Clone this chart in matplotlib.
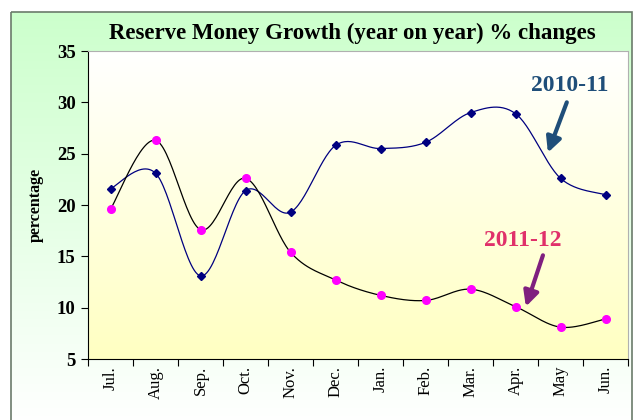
import numpy as np
from matplotlib import pyplot as plt
from matplotlib.patches import Rectangle

months = ["Jul.", "Aug.", "Sep.", "Oct.", "Nov.", "Dec.", "Jan.", "Feb.", "Mar.", "Apr.", "May", "Jun."]
growth_2010_11 = [21.6, 23.1, 13.1, 21.4, 19.3, 25.8, 25.5, 26.1, 29.0, 28.9, 22.6, 21.0]
growth_2011_12 = [19.6, 26.3, 17.6, 22.6, 15.4, 12.7, 11.2, 10.7, 11.8, 10.1, 8.1, 8.9]


def smooth(xs, ys, steps=30):
    # excel-style bezier smoothing through the points
    p = np.column_stack([xs, ys]).astype(float)
    p = np.vstack([p[0], p, p[-1]])
    out = []
    t = np.linspace(0, 1, steps)[:, None]
    for i in range(1, len(p) - 2):
        b0 = p[i]
        b3 = p[i + 1]
        b1 = b0 + (p[i + 1] - p[i - 1]) / 6
        b2 = b3 - (p[i + 2] - p[i]) / 6
        seg = (1 - t) ** 3 * b0 + 3 * (1 - t) ** 2 * t * b1 + 3 * (1 - t) * t ** 2 * b2 + t ** 3 * b3
        out.append(seg)
    c = np.vstack(out)
    return c[:, 0], c[:, 1]


fig = plt.figure(figsize=(6.36, 4.2), dpi=100)
W, H = 636, 420

# outer green panel with gradient
bg = fig.add_axes([0, 0, 1, 1], zorder=0)
bg.set_xlim(0, W)
bg.set_ylim(H, 0)
bg.axis("off")
grad = np.linspace(0, 1, 256)[:, None]
green = np.array([0.80, 1.0, 0.80])
white = np.array([1.0, 1.0, 1.0])
img = green[None, None, :] * (1 - grad[:, :, None]) + white[None, None, :] * grad[:, :, None]
bg.imshow(img, extent=[11, 632, 425, 12], aspect="auto")
bg.add_patch(Rectangle((11, 12), 621, 420, fill=False, edgecolor="#6b7b6b", linewidth=1.2))

ax = fig.add_axes([88 / W, 1 - 359 / H, 540 / W, 308 / H], zorder=1)
x = np.arange(len(months))
ax.set_xlim(-0.5, len(months) - 0.5)
ax.set_ylim(5, 35)

# plot area gradient white -> light yellow
yel = np.array([1.0, 1.0, 0.76])
pimg = white[None, None, :] * (1 - grad[:, :, None]) + yel[None, None, :] * grad[:, :, None]
ax.imshow(pimg, extent=[-0.5, len(months) - 0.5, 5, 35], aspect="auto", origin="upper", zorder=0)

sx, sy = smooth(x, growth_2010_11)
ax.plot(sx, sy, color="#000080", linewidth=0.9, zorder=2)
ax.plot(x, growth_2010_11, linestyle="none", marker="D", markersize=4.5, color="#000080", zorder=3)

sx, sy = smooth(x, growth_2011_12)
ax.plot(sx, sy, color="black", linewidth=0.9, zorder=2)
ax.plot(x, growth_2011_12, linestyle="none", marker="o", markersize=5.5, color="#ff00ff", zorder=3)

ax.set_yticks(range(5, 36, 5))
ax.set_xticks(np.arange(-0.5, len(months), 1), minor=False)
ax.set_xticklabels([])
ax.set_xticks(x, minor=True)
ax.set_xticklabels(months, minor=True, rotation=90, fontfamily="Liberation Serif", fontsize=12)
ax.tick_params(axis="x", which="minor", length=0, pad=5)
ax.tick_params(axis="x", which="major", length=5, direction="out")
ax.tick_params(axis="y", length=5, direction="out", pad=4)
for lab in ax.get_yticklabels():
    lab.set_fontfamily("Liberation Serif")
    lab.set_fontweight("bold")
    lab.set_fontsize(13.5)
ax.spines["top"].set_color("#b0b0b0")
ax.spines["right"].set_color("#b0b0b0")
ax.set_ylabel("percentage", fontfamily="Liberation Serif", fontweight="bold", fontsize=11.5, labelpad=9)

fig.text(352 / W, 1 - 33 / H, "Reserve Money Growth (year on year) % changes", ha="center", va="center",
         fontfamily="Liberation Serif", fontweight="bold", fontsize=16.5)

ax.text(10.21, 31.6, "2010-11", ha="center", va="center", fontfamily="Liberation Serif",
        fontweight="bold", fontsize=17, color="#1f4e79")
ax.annotate("", xy=(9.72, 25.1), xytext=(10.14, 30.0),
            arrowprops=dict(arrowstyle="-|>,head_length=0.9,head_width=0.45", color="#1f4e79",
                            linewidth=3, shrinkA=0, shrinkB=0))
ax.text(9.17, 16.5, "2011-12", ha="center", va="center", fontfamily="Liberation Serif",
        fontweight="bold", fontsize=17, color="#e0306a")
ax.annotate("", xy=(9.23, 10.1), xytext=(9.61, 15.1),
            arrowprops=dict(arrowstyle="-|>,head_length=0.9,head_width=0.45", color="#7f1f7f",
                            linewidth=3, shrinkA=0, shrinkB=0))

fig.savefig("out.png", dpi=100)
